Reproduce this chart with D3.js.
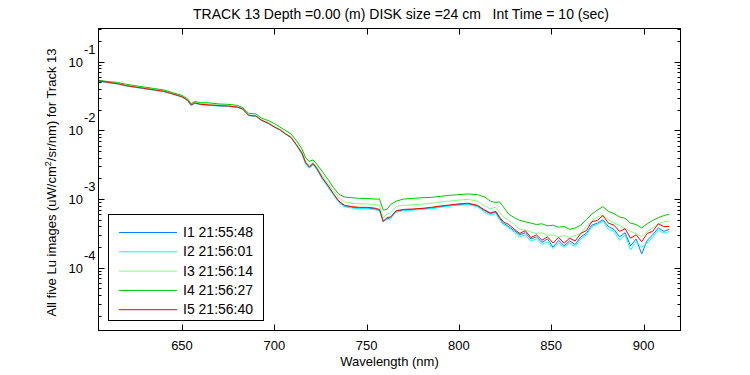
<!DOCTYPE html>
<html>
<head>
<meta charset="utf-8">
<script src="https://cdn.jsdelivr.net/npm/d3@7"></script>
<style>
  body { margin: 0; background: #fff; }
  text { font-family: "Liberation Sans", Arial, sans-serif; fill: #000; }
</style>
</head>
<body>
<script>
// wavelengths (nm) shared by all five scans
var wavelengths = [605, 610, 615, 620, 625, 630, 635, 640, 645, 650,
  653, 655, 657, 660, 665, 670, 675, 680, 683, 686, 690, 693, 697, 700,
  703, 706, 709, 712, 715, 717, 719, 721, 723, 726, 729, 732, 735, 738,
  742, 746, 750, 754, 757, 759, 761, 763, 766, 770, 775, 780, 785, 790,
  795, 800, 805, 810, 814, 817, 820, 822, 824, 827, 830, 833, 836, 839,
  842, 845, 848, 851, 854, 857, 860, 863, 866, 869, 872, 875, 878, 881,
  884, 887, 890, 893, 896, 899, 902, 905, 908, 911, 914];

// log10 of Lu, one array per image
var logI1 = [-1.28, -1.30, -1.32, -1.35, -1.37, -1.39, -1.41, -1.43, -1.465, -1.51,
  -1.56, -1.635, -1.60, -1.62, -1.63, -1.64, -1.645, -1.66, -1.69, -1.78, -1.79, -1.85, -1.90, -1.95,
  -1.99, -2.05, -2.10, -2.21, -2.34, -2.48, -2.54, -2.49, -2.56, -2.70, -2.81, -2.93, -3.04, -3.10,
  -3.12, -3.13, -3.13, -3.14, -3.16, -3.32, -3.29, -3.27, -3.18, -3.16, -3.15, -3.14, -3.13, -3.11,
  -3.095, -3.08, -3.07, -3.10, -3.17, -3.21, -3.19, -3.28, -3.35, -3.40, -3.46, -3.52, -3.49, -3.58,
  -3.55, -3.63, -3.58, -3.70, -3.60, -3.68, -3.61, -3.66, -3.55, -3.50, -3.38, -3.35, -3.30, -3.40,
  -3.44, -3.55, -3.49, -3.68, -3.58, -3.80, -3.60, -3.52, -3.42, -3.47, -3.44];

var logI2 = [-1.285, -1.305, -1.325, -1.355, -1.375, -1.395, -1.415, -1.435, -1.47, -1.515,
  -1.565, -1.64, -1.605, -1.625, -1.635, -1.645, -1.65, -1.665, -1.695, -1.785, -1.795, -1.855, -1.905, -1.955,
  -1.995, -2.055, -2.105, -2.22, -2.35, -2.49, -2.55, -2.50, -2.57, -2.71, -2.82, -2.94, -3.05, -3.11,
  -3.13, -3.14, -3.14, -3.15, -3.17, -3.31, -3.30, -3.28, -3.19, -3.17, -3.16, -3.15, -3.14, -3.12,
  -3.10, -3.09, -3.08, -3.11, -3.19, -3.23, -3.21, -3.30, -3.37, -3.42, -3.48, -3.55, -3.52, -3.61,
  -3.58, -3.66, -3.62, -3.72, -3.64, -3.70, -3.64, -3.69, -3.58, -3.52, -3.40, -3.37, -3.32, -3.44,
  -3.47, -3.60, -3.52, -3.74, -3.62, -3.70, -3.64, -3.55, -3.45, -3.50, -3.47];

var logI3 = [-1.275, -1.295, -1.315, -1.345, -1.365, -1.385, -1.405, -1.425, -1.465, -1.505,
  -1.555, -1.625, -1.595, -1.61, -1.62, -1.63, -1.64, -1.655, -1.685, -1.775, -1.785, -1.84, -1.89, -1.94,
  -1.98, -2.04, -2.09, -2.20, -2.32, -2.45, -2.51, -2.47, -2.53, -2.66, -2.77, -2.88, -2.98, -3.04,
  -3.06, -3.07, -3.07, -3.08, -3.09, -3.27, -3.22, -3.20, -3.11, -3.09, -3.085, -3.075, -3.06, -3.045,
  -3.03, -3.015, -3.005, -3.03, -3.10, -3.14, -3.12, -3.19, -3.26, -3.31, -3.37, -3.44, -3.45, -3.48,
  -3.50, -3.49, -3.53, -3.52, -3.55, -3.53, -3.56, -3.53, -3.50, -3.40, -3.32, -3.26, -3.23, -3.30,
  -3.35, -3.38, -3.43, -3.47, -3.50, -3.55, -3.47, -3.42, -3.36, -3.33, -3.32];

var logI4 = [-1.27, -1.29, -1.30, -1.33, -1.35, -1.37, -1.39, -1.41, -1.45, -1.49,
  -1.54, -1.61, -1.58, -1.595, -1.60, -1.615, -1.62, -1.635, -1.67, -1.75, -1.76, -1.82, -1.86, -1.90,
  -1.95, -2.00, -2.05, -2.15, -2.27, -2.40, -2.45, -2.43, -2.49, -2.60, -2.71, -2.83, -2.93, -2.97,
  -2.98, -2.99, -2.99, -3.00, -3.00, -3.16, -3.15, -3.08, -3.03, -3.00, -2.99, -2.98, -2.975, -2.96,
  -2.945, -2.935, -2.925, -2.935, -2.97, -3.03, -3.05, -3.04, -3.11, -3.22, -3.27, -3.31, -3.33, -3.35,
  -3.37, -3.36, -3.39, -3.38, -3.41, -3.40, -3.44, -3.42, -3.38, -3.30, -3.22, -3.16, -3.11, -3.18,
  -3.21, -3.26, -3.28, -3.35, -3.37, -3.42, -3.36, -3.31, -3.27, -3.24, -3.22];

var logI5 = [-1.28, -1.30, -1.32, -1.35, -1.37, -1.39, -1.41, -1.43, -1.47, -1.51,
  -1.56, -1.63, -1.60, -1.62, -1.63, -1.64, -1.645, -1.66, -1.69, -1.78, -1.79, -1.85, -1.90, -1.95,
  -1.99, -2.05, -2.10, -2.21, -2.33, -2.47, -2.53, -2.48, -2.55, -2.69, -2.80, -2.92, -3.03, -3.09,
  -3.11, -3.12, -3.12, -3.13, -3.15, -3.33, -3.27, -3.26, -3.17, -3.15, -3.145, -3.135, -3.12, -3.10,
  -3.085, -3.07, -3.06, -3.09, -3.16, -3.20, -3.18, -3.26, -3.33, -3.37, -3.44, -3.50, -3.46, -3.56,
  -3.52, -3.60, -3.55, -3.64, -3.56, -3.64, -3.57, -3.61, -3.50, -3.46, -3.33, -3.31, -3.24, -3.35,
  -3.38, -3.47, -3.43, -3.57, -3.52, -3.62, -3.50, -3.47, -3.36, -3.40, -3.40];

var seriesNames = ["I1 21:55:48", "I2 21:56:01", "I3 21:56:14", "I4 21:56:27", "I5 21:56:40"];
var seriesColors = ["#0080ff", "#00ffff", "#80ff80", "#00c800", "#ff0000"];
var xTicks = [650, 700, 750, 800, 850, 900];
var yDecades = [-4, -3, -2, -1];

var W = 750, H = 375;
var margin = {top: 28, right: 69, bottom: 44, left: 98},
    width = W - margin.left - margin.right,
    height = H - margin.top - margin.bottom;

var x = d3.scaleLinear().domain([604.5, 920.3]).range([0, width]),
    y = d3.scaleLog().domain([1.2e-5, 0.31]).range([height, 0]);

var svg = d3.select("body").append("svg")
    .attr("width", W)
    .attr("height", H);

var g = svg.append("g")
    .attr("transform", "translate(" + margin.left + "," + margin.top + ")");

// build the series from the arrays
var all = [logI1, logI2, logI3, logI4, logI5].map(function(arr, k) {
  return {
    name: seriesNames[k],
    color: seriesColors[k],
    values: wavelengths.map(function(w, i) { return {x: w, y: Math.pow(10, arr[i])}; })
  };
});

var line = d3.line()
    .x(function(d) { return x(d.x); })
    .y(function(d) { return y(d.y); });

g.append("defs").append("clipPath").attr("id", "clip")
  .append("rect").attr("width", width).attr("height", height);

g.append("g").attr("clip-path", "url(#clip)")
  .selectAll("path")
  .data(all)
  .enter().append("path")
    .attr("fill", "none")
    .attr("stroke", function(d) { return d.color; })
    .attr("stroke-width", 1)
    .attr("d", function(d) { return line(d.values); });

// minor + major log ticks
var minor = [];
for (var e = -5; e <= 0; e++) {
  for (var k = 1; k <= 9; k++) {
    var v = k * Math.pow(10, e);
    if (v >= y.domain()[0] && v <= y.domain()[1]) minor.push({v: v, major: k === 1});
  }
}

function yTicks(sel, dir) {
  sel.selectAll("line")
    .data(minor)
    .enter().append("line")
      .attr("x1", 0)
      .attr("x2", function(d) { return dir * (d.major ? 6 : 3); })
      .attr("y1", function(d) { return Math.round(y(d.v)) + 0.5; })
      .attr("y2", function(d) { return Math.round(y(d.v)) + 0.5; })
      .attr("stroke", "#000");
}
g.append("g").attr("transform", "translate(0.5,0)").call(yTicks, 1);
g.append("g").attr("transform", "translate(" + (width - 0.5) + ",0)").call(yTicks, -1);

// x ticks (inward) bottom and top
function xTickLines(sel, dir) {
  sel.selectAll("line")
    .data(xTicks)
    .enter().append("line")
      .attr("x1", function(d) { return Math.round(x(d)) + 0.5; })
      .attr("x2", function(d) { return Math.round(x(d)) + 0.5; })
      .attr("y1", 0)
      .attr("y2", dir * 6)
      .attr("stroke", "#000");
}
g.append("g").attr("transform", "translate(0," + (height - 0.5) + ")").call(xTickLines, -1);
g.append("g").attr("transform", "translate(0,0.5)").call(xTickLines, 1);

// frame
g.append("rect")
    .attr("x", 0.5).attr("y", 0.5)
    .attr("width", width - 1).attr("height", height - 1)
    .attr("fill", "none")
    .attr("stroke", "#000");

// x tick labels
g.selectAll(".xlab")
  .data(xTicks)
  .enter().append("text")
    .attr("class", "xlab")
    .attr("x", function(d) { return x(d); })
    .attr("y", height + 19)
    .attr("text-anchor", "middle")
    .style("font-size", "13px")
    .text(function(d) { return d; });

// y tick labels 10^e
var ylab = g.selectAll(".ylab")
  .data(yDecades)
  .enter().append("text")
    .attr("class", "ylab")
    .attr("x", -15)
    .attr("y", function(d) { return y(Math.pow(10, d)) + 5; })
    .attr("text-anchor", "end")
    .style("font-size", "13px");
ylab.append("tspan").text("10");
ylab.append("tspan")
    .attr("x", -14)
    .attr("dy", -13)
    .attr("text-anchor", "start")
    .text(function(d) { return d; });

// titles
svg.append("text")
    .attr("x", 401)
    .attr("y", 19)
    .attr("text-anchor", "middle")
    .style("font-size", "14px")
    .attr("xml:space", "preserve")
    .text("TRACK 13 Depth =0.00 (m) DISK size =24 cm   Int Time = 10 (sec)");

svg.append("text")
    .attr("x", margin.left + width / 2)
    .attr("y", 366)
    .attr("text-anchor", "middle")
    .style("font-size", "13px")
    .text("Wavelength (nm)");

var yl = svg.append("text")
    .attr("transform", "translate(56," + (margin.top + height / 2 + 3) + ")rotate(-90)")
    .attr("text-anchor", "middle")
    .style("font-size", "13px");
yl.append("tspan").text("All five Lu images (uW/cm");
yl.append("tspan").attr("dy", -5).style("font-size", "9px").text("2");
yl.append("tspan").attr("dy", 5).text("/sr/nm) for Track 13");

// legend
var leg = svg.append("g").attr("transform", "translate(108,214)");
leg.append("rect")
    .attr("x", 0.5).attr("y", 0.5)
    .attr("width", 155).attr("height", 106)
    .attr("fill", "#fff")
    .attr("stroke", "#000");
var item = leg.selectAll(".item")
  .data(all)
  .enter().append("g")
    .attr("class", "item")
    .attr("transform", function(d, i) { return "translate(0," + (18 + i * 19.3) + ")"; });
item.append("line")
    .attr("x1", 11).attr("x2", 69)
    .attr("y1", 0.5).attr("y2", 0.5)
    .attr("stroke", function(d) { return d.color; });
item.append("text")
    .attr("x", 75)
    .attr("y", 5)
    .style("font-size", "14px")
    .text(function(d) { return d.name; });
</script>
</body>
</html>
